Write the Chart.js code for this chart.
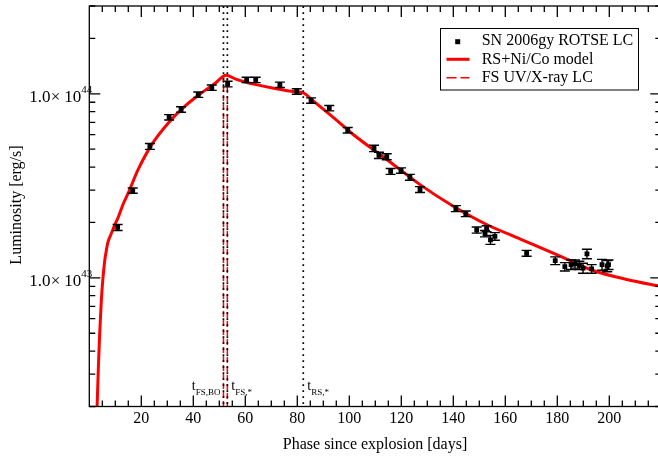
<!DOCTYPE html>
<html><head><meta charset="utf-8">
<script src="https://cdn.jsdelivr.net/npm/chart.js@4.4.1/dist/chart.umd.min.js"></script>
<style>html,body{margin:0;padding:0;overflow:hidden;background:#fff}</style>
</head><body>
<canvas id="c" width="666" height="456" style="display:block;width:666px;height:456px"></canvas>
<script>
// Luminosities in units of 1e43 erg/s
const obsDays = [10.9,16.7,23.3,30.7,35.3,41.9,47.1,53.2,60.5,64.0,73.3,79.8,85.3,92.3,99.4,109.5,111.4,114.4,115.9,119.9,123.3,127.2,141.0,144.8,149.0,152.2,152.8,154.3,156.0,168.2,179.2,182.9,185.3,186.8,188.5,189.9,191.4,193.2,197.2,199.2,199.7];
const obsLum  = [1.88,2.98,5.18,7.46,8.22,9.89,10.8,11.3,11.9,11.9,11.2,10.3,9.2,8.36,6.34,5.05,4.63,4.55,3.79,3.83,3.52,3.02,2.38,2.23,1.82,1.74,1.85,1.61,1.68,1.36,1.24,1.15,1.18,1.19,1.17,1.13,1.35,1.12,1.18,1.16,1.18];
const obsErr  = [0.07,0.10,0.19,0.25,0.28,0.33,0.36,0.40,0.40,0.40,0.38,0.35,0.31,0.28,0.22,0.20,0.18,0.17,0.14,0.13,0.13,0.11,0.09,0.08,0.07,0.07,0.07,0.09,0.08,0.05,0.06,0.06,0.07,0.06,0.06,0.07,0.08,0.06,0.08,0.08,0.07];

const modelDays = [2.8,3.0,3.5,4.0,4.6,5.2,5.9,6.5,7.2,8.0,9.0,10.0,11.0,13.0,15.0,18.8,24.0,30.4,36.8,43.2,48.3,52.6,56.1,60.0,63.7,71.4,79.1,82.3,86.0,89.4,94.5,101.5,114.4,127.2,140.0,152.8,166.0,181.3,193.8,206.7,220.0];
const modelLum  = [0.1585,0.1995,0.3311,0.5012,0.7413,0.9772,1.230,1.396,1.567,1.679,1.820,1.972,2.113,2.512,2.897,3.881,5.297,6.95,8.57,10.12,11.38,12.62,12.05,11.59,11.25,10.69,10.26,10.12,9.18,8.39,7.31,6.01,4.40,3.21,2.45,1.95,1.62,1.31,1.096,0.98,0.897];

const fsDays = [51.6,51.6,53.1,53.1];
const fsLum  = [0.001,12.2,12.2,0.001];

const markerDays = [51.6,53.1,82.3];
const markerMain = ['t','t','t'];
const markerSub  = ['FS,BO','FS,*','RS,*'];

const xTickLabels = [20,40,60,80,100,120,140,160,180,200];
const yMajorValues = [1,10];
const yMantissa = ['1.0','1.0'];
const yTimes = ['×','×'];
const yBase = ['10','10'];
const yMajorExp  = ['43','44'];
const legendLabels = ['SN 2006gy ROTSE LC','RS+Ni/Co model','FS UV/X-ray LC'];
const xTitle = 'Phase since explosion [days]';
const yTitle = 'Luminosity [erg/s]';

const SERIF = "'Liberation Serif','Times New Roman',serif";
const toXY = (xs, ys) => xs.map((v,i)=>({x:v,y:ys[i]}));

const errorBars = {
  id:'errorBars',
  afterDatasetsDraw(chart){
    const {ctx, chartArea:a, scales:{x,y}} = chart;
    ctx.save();
    ctx.beginPath(); ctx.rect(a.left,a.top,a.right-a.left,a.bottom-a.top); ctx.clip();
    ctx.strokeStyle='#000'; ctx.lineWidth=1.4;
    obsDays.forEach((d,i)=>{
      const px=x.getPixelForValue(d);
      const t=y.getPixelForValue(obsLum[i]+obsErr[i]);
      const b=y.getPixelForValue(obsLum[i]-obsErr[i]);
      ctx.beginPath();
      ctx.moveTo(px,t); ctx.lineTo(px,b);
      ctx.moveTo(px-5,t); ctx.lineTo(px+5,t);
      ctx.moveTo(px-5,b); ctx.lineTo(px+5,b);
      ctx.stroke();
    });
    ctx.restore();
  }
};

const frame = {
  id:'frame',
  afterDraw(chart){
    const {ctx, chartArea:a, scales:{x,y}} = chart;
    ctx.save();
    ctx.strokeStyle='#000'; ctx.fillStyle='#000'; ctx.lineWidth=1.3;
    ctx.strokeRect(a.left,a.top,a.right-a.left,a.bottom-a.top);
    const MAJ=11, MIN=6;
    ctx.beginPath();
    for(let d=5; d<x.max; d+=5){
      const px=x.getPixelForValue(d);
      const L = (d%20===0)?MAJ:MIN;
      ctx.moveTo(px,a.bottom); ctx.lineTo(px,a.bottom-L);
      ctx.moveTo(px,a.top); ctx.lineTo(px,a.top+L);
    }
    for(let e=-1; e<=1; e++){
      for(let m=1; m<=9; m++){
        const v=m*Math.pow(10,e);
        if(v<y.min-1e-9||v>y.max+1e-9) continue;
        const py=y.getPixelForValue(v);
        const L=(m===1)?MAJ:MIN;
        ctx.moveTo(a.left,py); ctx.lineTo(a.left+L,py);
        ctx.moveTo(a.right,py); ctx.lineTo(a.right-L,py);
      }
    }
    ctx.stroke();
    // x tick labels
    ctx.font='16px '+SERIF; ctx.textAlign='center'; ctx.textBaseline='alphabetic';
    xTickLabels.forEach(v=>{ ctx.fillText(String(v), x.getPixelForValue(v), a.bottom+16.5); });
    // y tick labels
    yMajorValues.forEach((v,i)=>{
      const py=y.getPixelForValue(v);
      ctx.font='17px '+SERIF;
      ctx.textAlign='left';  ctx.fillText(yMantissa[i], 29.3, py+7.8);
      ctx.textAlign='center'; ctx.fillText(yTimes[i], 55.5, py+7.8);
      ctx.textAlign='right'; ctx.fillText(yBase[i], 81.3, py+7.8);
      ctx.font='11px '+SERIF; ctx.textAlign='left';
      ctx.fillText(yMajorExp[i], 81.3, py-1);
    });
    // axis titles
    ctx.font='16px '+SERIF; ctx.textAlign='center';
    ctx.fillText(xTitle, 375, a.bottom+42);
    ctx.save();
    ctx.translate(21, 205); ctx.rotate(-Math.PI/2);
    ctx.fillText(yTitle, 0, 0);
    ctx.restore();
    // event annotations
    markerDays.forEach((d,i)=>{
      const px=x.getPixelForValue(d);
      ctx.font='14px '+SERIF; const w1=ctx.measureText(markerMain[i]).width;
      ctx.font='9px '+SERIF; const w2=ctx.measureText(markerSub[i]).width;
      let left = (i===0) ? px-3-(w1+w2) : px+4;
      ctx.textAlign='left';
      ctx.font='14px '+SERIF; ctx.fillText(markerMain[i], left, 390);
      ctx.font='9px '+SERIF; ctx.fillText(markerSub[i], left+w1, 395);
    });
    // legend
    ctx.lineWidth=1;
    ctx.strokeRect(440.5,28.5,198,61.5);
    ctx.fillRect(455.2,39.2,5,5);
    ctx.strokeStyle='#ff0000'; ctx.lineWidth=3;
    ctx.beginPath(); ctx.moveTo(446.5,59.3); ctx.lineTo(469.5,59.3); ctx.stroke();
    ctx.lineWidth=1.5; ctx.setLineDash([10,4]);
    ctx.beginPath(); ctx.moveTo(446.5,77.7); ctx.lineTo(469.5,77.7); ctx.stroke();
    ctx.setLineDash([]);
    ctx.fillStyle='#000'; ctx.font='16px '+SERIF; ctx.textAlign='left';
    ctx.fillText(legendLabels[0], 481.7, 44.5);
    ctx.fillText(legendLabels[1], 481.7, 63.5);
    ctx.fillText(legendLabels[2], 481.7, 81.7);
    ctx.restore();
  }
};

const vline = (d, order) => ({
  data:[{x:d,y:0.001},{x:d,y:1000}], showLine:true, pointRadius:0,
  borderColor:'#000', borderWidth:1.7, borderDash:[1.7,4.3], borderCapStyle:'butt',
  clip:0, order
});

new Chart(document.getElementById('c'), {
  type:'scatter',
  data:{ datasets:[
    { label:legendLabels[0], data:toXY(obsDays,obsLum), pointStyle:'rect', pointRadius:3.4,
      backgroundColor:'#000', borderColor:'#000', borderWidth:0, showLine:false, order:0, clip:0 },
    vline(markerDays[0],1), vline(markerDays[1],1), vline(markerDays[2],1),
    { label:legendLabels[1], data:toXY(modelDays,modelLum), showLine:true, pointRadius:0,
      borderColor:'#ff0000', borderWidth:3, cubicInterpolationMode:'monotone', clip:0, order:2 },
    { label:legendLabels[2], data:toXY(fsDays,fsLum), showLine:true, pointRadius:0,
      borderColor:'#ff0000', borderWidth:1.5, borderDash:[6,3], clip:0, order:3 }
  ]},
  options:{
    responsive:false, animation:false, devicePixelRatio:1,
    layout:{ padding:{ left:89.3, right:4.7, top:6, bottom:49.5 } },
    plugins:{ legend:{display:false}, tooltip:{enabled:false} },
    scales:{
      x:{ type:'linear', min:0, max:220, display:false },
      y:{ type:'logarithmic', min:0.2, max:30, display:false }
    }
  },
  plugins:[errorBars, frame]
});
</script>
</body></html>
